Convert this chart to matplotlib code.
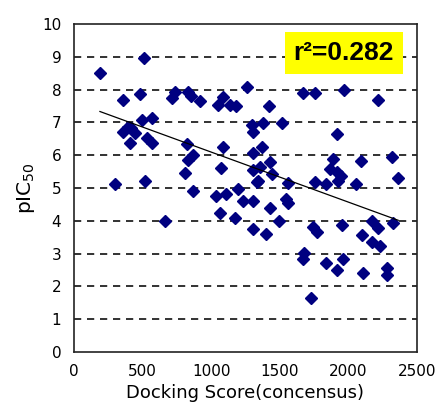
import numpy as np
import matplotlib
matplotlib.use('Agg')
import matplotlib.pyplot as plt

# Docking score vs pIC50
docking_score = [190, 510, 355, 481, 300, 518, 360, 396, 420, 445,
                 408, 493, 566, 530, 566, 666, 712, 736, 830, 855,
                 920, 1052, 1088, 1137, 1181, 1264, 1424, 1295, 1375, 1517,
                 1307, 821, 865, 833, 809, 1088, 1076, 1302, 1307, 1336,
                 1198, 870, 1034, 1110, 1232, 1307, 1064, 1175, 1302, 1399,
                 1429, 1496, 1545, 1560, 1372, 1427, 1356, 1441, 1343, 1562,
                 1672, 1757, 1966, 2213, 1915, 1890, 2090, 2320, 2364, 1866,
                 1915, 1945, 1927, 1757, 1837, 2055, 1744, 1769, 1951, 2097,
                 2170, 2218, 2323, 2170, 2232, 1674, 1667, 1835, 1915, 1963,
                 2110, 2284, 2279, 1728]
pic50 = [8.52, 8.98, 7.68, 7.88, 5.11, 5.21, 6.72, 6.87, 6.82, 6.69,
         6.36, 7.07, 7.12, 6.51, 6.36, 4.00, 7.73, 7.94, 7.92, 7.80,
         7.64, 7.53, 7.78, 7.52, 7.49, 8.07, 7.49, 6.93, 6.99, 6.97,
         6.72, 6.34, 6.00, 5.86, 5.46, 6.26, 5.60, 6.08, 5.55, 5.19,
         4.98, 4.92, 4.76, 4.83, 4.61, 4.61, 4.25, 4.07, 3.74, 3.61,
         4.40, 4.00, 4.66, 4.55, 6.25, 5.80, 5.63, 5.43, 5.20, 5.14,
         7.91, 7.89, 7.99, 7.69, 6.66, 5.89, 5.81, 5.96, 5.30, 5.57,
         5.48, 5.38, 5.22, 5.19, 5.12, 5.11, 3.82, 3.67, 3.88, 3.58,
         3.98, 3.78, 3.92, 3.36, 3.23, 3.02, 2.84, 2.72, 2.51, 2.83,
         2.40, 2.55, 2.35, 1.64]
r2_label = 'r\u00b2=0.282'

x = np.array(docking_score)
y = np.array(pic50)

fig = plt.figure(figsize=(4.37, 4.15), dpi=100)
ax = fig.add_axes([0.169, 0.152, 0.785, 0.790])

# dashed horizontal grid
for level in range(1, 10):
    ax.axhline(level, color='#222222', linestyle=(0, (4, 3.2)), linewidth=1.3, zorder=1)

ax.plot(x, y, linestyle='none', marker='D', markersize=5.8,
        color='#000080', zorder=3)

# linear trend line
slope, intercept = np.polyfit(x, y, 1)
xs = np.array([x.min(), x.max()])
ax.plot(xs, slope * xs + intercept, color='black', linewidth=0.9, zorder=4)

ax.text(1968, 9.12, r2_label, fontsize=19, fontweight='bold',
        family='Liberation Sans', ha='center', va='center',
        bbox=dict(facecolor='#FFFF00', edgecolor='none', pad=6.5), zorder=5)

ax.set_xlim(0, 2500)
ax.set_ylim(0, 10)
ax.set_xticks(range(0, 2501, 500))
ax.set_yticks(range(0, 11))
ax.tick_params(length=0, labelsize=11, pad=9)
for s in ax.spines.values():
    s.set_linewidth(1.2)
    s.set_color('#222222')

ax.set_xlabel('Docking Score(concensus)', fontsize=13, labelpad=3)
ax.set_ylabel(r'pIC$_{50}$', fontsize=14.5, labelpad=4)

plt.savefig('out.png', dpi=100)
